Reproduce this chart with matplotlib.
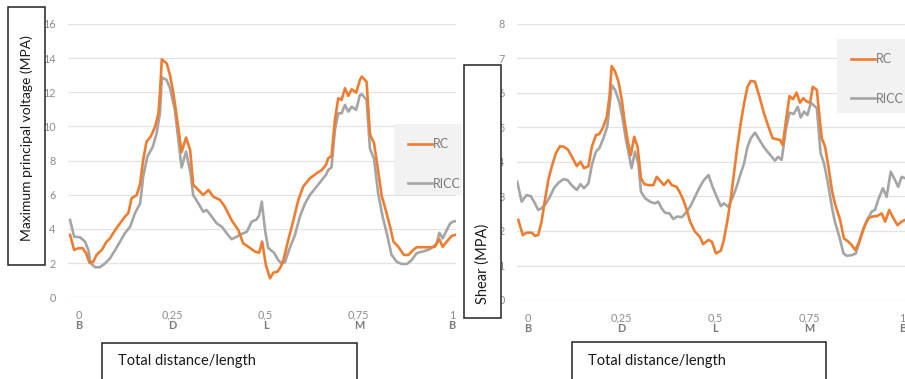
import matplotlib
matplotlib.use('Agg')
import matplotlib.pyplot as plt
from matplotlib.patches import Rectangle

plt.rcParams['font.family'] = ['Lato', 'DejaVu Sans']

# positions along the path, 0..1, with point names
tick_vals = [0, 0.25, 0.5, 0.75, 1]
tick_text = ['0', '0,25', '0,5', '0,75', '1']
point_names = ['B', 'D', 'L', 'M', 'B']

# left chart: maximum principal stress (MPa)
left_rc_x = [-0.024, -0.013, -0.002, 0.010, 0.019, 0.028, 0.038, 0.047, 0.061, 0.074,
             0.083, 0.097, 0.110, 0.123, 0.132, 0.141, 0.155, 0.164, 0.172, 0.181,
             0.192, 0.204, 0.213, 0.217, 0.222, 0.235, 0.244, 0.253, 0.262, 0.275,
             0.287, 0.298, 0.306, 0.320, 0.333, 0.347, 0.360, 0.378, 0.391, 0.409,
             0.427, 0.440, 0.454, 0.472, 0.483, 0.491, 0.501, 0.512, 0.521, 0.532,
             0.541, 0.548, 0.561, 0.575, 0.588, 0.601, 0.619, 0.637, 0.651, 0.662,
             0.668, 0.677, 0.686, 0.695, 0.704, 0.713, 0.722, 0.731, 0.743, 0.753,
             0.758, 0.771, 0.780, 0.791, 0.802, 0.812, 0.820, 0.834, 0.843, 0.856,
             0.871, 0.883, 0.896, 0.905, 0.923, 0.941, 0.954, 0.966, 0.975, 0.986,
             0.999, 1.008]
left_rc_y = [3.65, 2.77, 2.87, 2.87, 2.58, 2.03, 2.08, 2.48, 2.77, 3.26,
             3.45, 3.94, 4.33, 4.72, 4.92, 5.8, 5.99, 6.67, 8.04, 9.11,
             9.4, 9.99, 10.77, 11.94, 13.93, 13.7, 13.0, 11.94, 10.57, 8.5,
             9.35, 8.62, 6.6, 6.28, 5.99, 6.28, 5.89, 5.7, 5.3, 4.52,
             3.94, 3.16, 2.96, 2.67, 2.61, 3.26, 1.89, 1.11, 1.44, 1.5,
             1.79, 2.18, 3.35, 4.52, 5.7, 6.48, 6.97, 7.26, 7.45, 7.75,
             8.14, 8.27, 10.38, 11.65, 11.55, 12.24, 11.79, 12.18, 11.98, 12.72,
             12.92, 12.62, 9.55, 9.02, 7.4, 5.89, 5.3, 4.13, 3.26, 2.96,
             2.48, 2.48, 2.77, 2.93, 2.93, 2.93, 2.96, 3.4, 2.96, 3.26,
             3.59, 3.65]

left_ricc_x = [-0.024, -0.013, 0.003, 0.016, 0.025, 0.031, 0.043, 0.056, 0.070, 0.083,
               0.097, 0.110, 0.123, 0.137, 0.150, 0.164, 0.172, 0.183, 0.198, 0.208,
               0.217, 0.222, 0.235, 0.244, 0.257, 0.275, 0.287, 0.299, 0.306, 0.320,
               0.333, 0.342, 0.356, 0.369, 0.383, 0.396, 0.409, 0.423, 0.436, 0.450,
               0.463, 0.476, 0.483, 0.490, 0.499, 0.507, 0.515, 0.523, 0.534, 0.543,
               0.552, 0.563, 0.579, 0.592, 0.606, 0.619, 0.637, 0.651, 0.662, 0.668,
               0.677, 0.686, 0.695, 0.704, 0.713, 0.722, 0.731, 0.743, 0.753, 0.758,
               0.771, 0.780, 0.791, 0.802, 0.814, 0.825, 0.838, 0.852, 0.865, 0.879,
               0.892, 0.905, 0.919, 0.936, 0.950, 0.959, 0.966, 0.975, 0.986, 0.995,
               1.003, 1.008]
left_ricc_y = [4.52, 3.55, 3.51, 3.26, 2.77, 2.0, 1.76, 1.76, 1.99, 2.28,
               2.77, 3.26, 3.75, 4.13, 4.92, 5.5, 7.06, 8.23, 8.82, 9.6,
               10.77, 12.88, 12.72, 12.24, 10.97, 7.6, 8.53, 7.26, 5.99, 5.5,
               5.01, 5.11, 4.72, 4.33, 4.13, 3.75, 3.4, 3.55, 3.71, 3.84,
               4.43, 4.55, 4.8, 5.6, 3.9, 2.9, 2.75, 2.6, 2.18, 1.99,
               2.05, 2.77, 3.65, 4.72, 5.5, 5.99, 6.48, 6.87, 7.16, 7.45,
               7.61, 9.79, 10.77, 10.77, 11.26, 10.87, 11.16, 10.97, 11.84, 11.89,
               11.55, 8.7, 8.1, 6.09, 4.72, 3.75, 2.48, 2.08, 1.95, 1.95,
               2.18, 2.58, 2.67, 2.77, 2.96, 3.16, 3.78, 3.45, 3.94, 4.33,
               4.43, 4.45]

# right chart: shear (MPa)
right_rc_x = [-0.025, -0.013, -0.003, 0.011, 0.019, 0.028, 0.037, 0.046, 0.055, 0.064,
              0.075, 0.086, 0.097, 0.108, 0.120, 0.131, 0.141, 0.150, 0.162, 0.171,
              0.182, 0.191, 0.200, 0.211, 0.218, 0.224, 0.233, 0.242, 0.251, 0.259,
              0.268, 0.275, 0.284, 0.293, 0.302, 0.311, 0.322, 0.335, 0.344, 0.355,
              0.363, 0.375, 0.384, 0.397, 0.406, 0.415, 0.424, 0.433, 0.446, 0.459,
              0.468, 0.482, 0.491, 0.502, 0.515, 0.523, 0.532, 0.541, 0.550, 0.559,
              0.568, 0.577, 0.586, 0.595, 0.606, 0.618, 0.630, 0.642, 0.653, 0.664,
              0.673, 0.680, 0.689, 0.698, 0.707, 0.717, 0.726, 0.735, 0.744, 0.753,
              0.760, 0.771, 0.778, 0.784, 0.793, 0.802, 0.811, 0.819, 0.833, 0.843,
              0.855, 0.864, 0.873, 0.882, 0.891, 0.899, 0.908, 0.920, 0.931, 0.944,
              0.953, 0.964, 0.975, 0.986, 0.997, 1.006]
right_rc_y = [2.32, 1.88, 1.95, 1.95, 1.86, 1.88, 2.27, 2.9, 3.48, 3.86,
              4.25, 4.46, 4.44, 4.35, 4.11, 3.88, 4.01, 3.82, 3.88, 4.44,
              4.78, 4.81, 4.98, 5.31, 5.89, 6.78, 6.62, 6.33, 5.8, 5.12,
              4.54, 4.2, 4.73, 4.44, 3.53, 3.36, 3.33, 3.33, 3.57, 3.43,
              3.33, 3.48, 3.33, 3.28, 3.11, 2.9, 2.61, 2.27, 1.98, 1.83,
              1.62, 1.74, 1.69, 1.35, 1.43, 1.74, 2.27, 2.9, 3.67, 4.44,
              5.12, 5.7, 6.18, 6.35, 6.33, 5.89, 5.41, 5.02, 4.69, 4.66,
              4.64, 4.49, 5.22, 5.91, 5.82, 6.01, 5.72, 5.85, 5.75, 5.72,
              6.18, 6.09, 5.31, 4.69, 4.44, 3.86, 3.19, 2.8, 2.32, 1.79,
              1.69, 1.59, 1.45, 1.64, 1.93, 2.17, 2.37, 2.42, 2.43, 2.51,
              2.27, 2.61, 2.37, 2.17, 2.27, 2.32]

right_ricc_x = [-0.028, -0.016, -0.003, 0.008, 0.017, 0.028, 0.037, 0.049, 0.059, 0.070,
                0.082, 0.095, 0.106, 0.117, 0.131, 0.141, 0.150, 0.162, 0.171, 0.182,
                0.191, 0.202, 0.212, 0.218, 0.224, 0.233, 0.244, 0.253, 0.262, 0.271,
                0.277, 0.286, 0.295, 0.302, 0.313, 0.326, 0.339, 0.348, 0.357, 0.366,
                0.378, 0.388, 0.399, 0.411, 0.422, 0.433, 0.446, 0.459, 0.470, 0.482,
                0.493, 0.504, 0.515, 0.523, 0.535, 0.547, 0.557, 0.568, 0.577, 0.586,
                0.595, 0.606, 0.618, 0.628, 0.639, 0.651, 0.659, 0.668, 0.677, 0.689,
                0.698, 0.709, 0.720, 0.728, 0.737, 0.746, 0.755, 0.762, 0.771, 0.781,
                0.790, 0.799, 0.811, 0.819, 0.831, 0.842, 0.851, 0.864, 0.875, 0.886,
                0.896, 0.908, 0.917, 0.926, 0.935, 0.947, 0.957, 0.968, 0.977, 0.988,
                0.997, 1.006]
right_ricc_y = [3.43, 2.85, 3.04, 3.01, 2.85, 2.61, 2.66, 2.8, 2.99, 3.24,
                3.4, 3.5, 3.48, 3.33, 3.19, 3.36, 3.24, 3.38, 3.91, 4.3,
                4.4, 4.69, 5.02, 5.6, 6.23, 6.09, 5.75, 5.27, 4.64, 4.15,
                3.82, 4.3, 3.96, 3.14, 2.95, 2.85, 2.8, 2.85, 2.66, 2.53,
                2.51, 2.35, 2.42, 2.4, 2.53, 2.7, 2.99, 3.28, 3.48, 3.62,
                3.28, 2.99, 2.72, 2.8, 2.7, 2.99, 3.28, 3.67, 3.96, 4.44,
                4.69, 4.85, 4.64, 4.46, 4.3, 4.15, 4.04, 4.15, 4.06, 4.98,
                5.43, 5.39, 5.6, 5.29, 5.46, 5.36, 5.72, 5.65, 5.56, 4.25,
                3.96, 3.48, 2.7, 2.27, 1.83, 1.35, 1.28, 1.3, 1.35, 1.74,
                2.08, 2.37, 2.56, 2.61, 2.92, 3.24, 2.99, 3.72, 3.53, 3.28,
                3.57, 3.53]

orange = '#ED7D31'
grey = '#A5A5A5'
tick_grey = '#8C8C8C'
W, H = 905, 379


def px(x0, y0, x1, y1):
    # pixel box -> figure fraction [left, bottom, width, height]
    return [x0 / W, 1 - y1 / H, (x1 - x0) / W, (y1 - y0) / H]


def draw_panel(ax, rc_x, rc_y, ricc_x, ricc_y, ymax, ystep, xlim):
    ax.plot(rc_x, rc_y, color=orange, lw=1.9, label='RC', zorder=3)
    ax.plot(ricc_x, ricc_y, color=grey, lw=1.9, label='RICC', zorder=2)
    ax.set_xlim(*xlim)
    ax.set_ylim(0, ymax)
    ax.set_yticks(range(0, ymax + 1, ystep))
    ax.grid(axis='y', color='#E3E3E3', lw=0.9)
    ax.set_axisbelow(True)
    for s in ax.spines.values():
        s.set_visible(False)
    ax.tick_params(length=0, labelsize=7.8, labelcolor=tick_grey)
    ax.tick_params(axis='y', pad=9)
    ax.tick_params(axis='x', pad=9)
    ax.set_xticks(tick_vals)
    ax.set_xticklabels(tick_text)
    for xv, name in zip(tick_vals, point_names):
        ax.annotate(name, (xv, 0), xycoords=('data', 'axes fraction'),
                    xytext=(0, -28), textcoords='offset pixels',
                    ha='center', va='center', fontsize=7.8, color='#7A7A7A',
                    fontweight='bold')


fig = plt.figure(figsize=(9.05, 3.79), dpi=100)

ax1 = fig.add_axes(px(68, 24, 456, 297.3))
draw_panel(ax1, left_rc_x, left_rc_y, left_ricc_x, left_ricc_y, 16, 2, (-0.0295, 1.0107))

ax2 = fig.add_axes(px(517, 24, 905, 300))
draw_panel(ax2, right_rc_x, right_rc_y, right_ricc_x, right_ricc_y, 8, 1, (-0.0285, 1.006))

# legend panels (grey boxes), one per chart
for ax, (lx, ly, lw_, lh) in [(ax1, (394, 124, 68, 71)), (ax2, (837, 39, 68, 74))]:
    fig.patches.append(Rectangle((lx / W, 1 - (ly + lh) / H), lw_ / W, lh / H,
                                 transform=fig.transFigure, facecolor='#F2F2F2',
                                 edgecolor='none', zorder=4))
    handles, labels = ax.get_legend_handles_labels()
    leg = fig.legend(handles, labels, loc='upper left',
                     bbox_to_anchor=((lx + 3) / W, 1 - (ly + 3) / H),
                     frameon=False, fontsize=9,
                     handlelength=1.9, handletextpad=0.1, labelspacing=2.2,
                     borderpad=0.4, labelcolor='#7A7A7A')
    leg.set_zorder(5)

# boxed axis titles
boxes = [
    ((8, 7, 45, 265), 'Maximum principal voltage (MPA)', 27, 138, 90, 10),
    ((464, 65, 501, 318), 'Shear (MPA)', 483, 264, 90, 10.5),
    ((102, 343, 357, 385), 'Total distance/length', 118, 361, 0, 10.5),
    ((572, 342, 826, 385), 'Total distance/length', 588, 361, 0, 10.5),
]
for (x0, y0, x1, y1), label, tx, ty, rot, fs in boxes:
    fig.patches.append(Rectangle((x0 / W, 1 - y1 / H), (x1 - x0) / W, (y1 - y0) / H,
                                 transform=fig.transFigure, facecolor='white',
                                 edgecolor='#222222', lw=1.1, zorder=6))
    fig.text(tx / W, 1 - ty / H, label, rotation=rot, fontsize=fs, color='#1A1A1A',
             ha='center' if rot else 'left', va='center', zorder=7)

fig.savefig('out.png', dpi=100)
